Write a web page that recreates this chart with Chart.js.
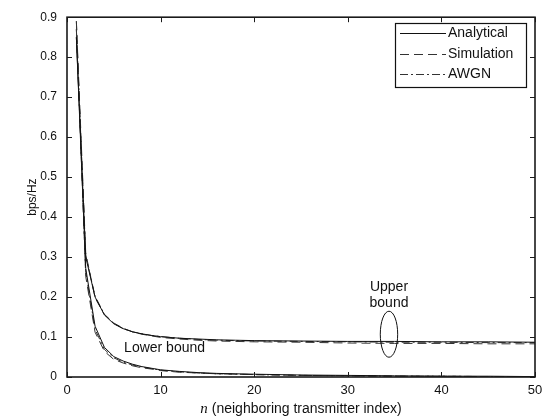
<!DOCTYPE html>
<html>
<head>
<meta charset="utf-8">
<script src="https://cdn.jsdelivr.net/npm/chart.js@4.4.1/dist/chart.umd.min.js"></script>
<style>
  html, body { margin: 0; padding: 0; background: #fff; }
  #chart { display: block; }
</style>
</head>
<body>
<canvas id="chart" width="550" height="417"></canvas>
<script>
// Neighboring transmitter index n
const nValues = [1, 2, 3, 4, 5, 6, 7, 8, 9, 10, 12, 14, 16, 18, 20, 25, 30, 35, 40, 45, 50];

// Upper bound curves (bps/Hz)
const upperAnalytical = [0.850, 0.300, 0.200, 0.155, 0.133, 0.121, 0.113, 0.108, 0.104, 0.101, 0.097, 0.095, 0.093, 0.092, 0.091, 0.090, 0.089, 0.089, 0.088, 0.088, 0.087];
const upperSimulation = [0.890, 0.310, 0.198, 0.156, 0.135, 0.122, 0.113, 0.107, 0.103, 0.099, 0.095, 0.092, 0.090, 0.089, 0.088, 0.087, 0.085, 0.084, 0.084, 0.083, 0.083];
const upperAwgn = [0.870, 0.305, 0.202, 0.157, 0.134, 0.121, 0.113, 0.108, 0.104, 0.101, 0.097, 0.094, 0.092, 0.091, 0.090, 0.089, 0.088, 0.087, 0.087, 0.086, 0.086];

// Lower bound curves (bps/Hz)
const lowerAnalytical = [0.850, 0.272, 0.127, 0.074, 0.051, 0.040, 0.032, 0.026, 0.022, 0.018, 0.014, 0.011, 0.009, 0.008, 0.007, 0.005, 0.004, 0.003, 0.002, 0.002, 0.001];
const lowerSimulation = [0.890, 0.252, 0.112, 0.064, 0.044, 0.035, 0.028, 0.023, 0.020, 0.016, 0.012, 0.010, 0.008, 0.007, 0.006, 0.004, 0.003, 0.002, 0.002, 0.001, 0.001];
const lowerAwgn = [0.870, 0.262, 0.119, 0.069, 0.048, 0.037, 0.030, 0.025, 0.021, 0.017, 0.013, 0.010, 0.008, 0.007, 0.006, 0.004, 0.003, 0.002, 0.002, 0.001, 0.001];

// Axis ticks
const xTicks = [0, 10, 20, 30, 40, 50];
const yTicks = [0, 0.1, 0.2, 0.3, 0.4, 0.5, 0.6, 0.7, 0.8, 0.9];

const legendNames = ['Analytical', 'Simulation', 'AWGN'];

const FONT = '"Liberation Sans", Arial, Helvetica, sans-serif';
const lineStyles = [
    { color: '#111', dash: [] },
    { color: '#333', dash: [9, 5] },
    { color: '#333', dash: [8, 3, 2, 3] }
];

function toPoints(values) {
    return values.map((v, i) => ({ x: nValues[i], y: v }));
}

function makeDataset(label, values, style) {
    return {
        label: label,
        data: toPoints(values),
        borderColor: style.color,
        borderDash: style.dash,
        borderWidth: 1,
        pointRadius: 0,
        showLine: true,
        fill: false,
        tension: 0
    };
}

const datasets = [
    makeDataset('Analytical', upperAnalytical, lineStyles[0]),
    makeDataset('Simulation', upperSimulation, lineStyles[1]),
    makeDataset('AWGN', upperAwgn, lineStyles[2]),
    makeDataset('Analytical (lower)', lowerAnalytical, lineStyles[0]),
    makeDataset('Simulation (lower)', lowerSimulation, lineStyles[1]),
    makeDataset('AWGN (lower)', lowerAwgn, lineStyles[2])
];

// Box, inward ticks, legend, annotations and x title
const framePlugin = {
    id: 'frame',
    afterDraw(chart) {
        const ctx = chart.ctx;
        const { left, right, top, bottom } = chart.chartArea;
        const xs = chart.scales.x;
        const ys = chart.scales.y;
        const tickLen = 5;

        ctx.save();
        ctx.strokeStyle = '#1a1a1a';
        ctx.lineWidth = 1;
        ctx.beginPath();
        xTicks.forEach(v => {
            const px = Math.round(xs.getPixelForValue(v)) + 0.5;
            ctx.moveTo(px, bottom); ctx.lineTo(px, bottom - tickLen);
            ctx.moveTo(px, top); ctx.lineTo(px, top + tickLen);
        });
        yTicks.forEach(v => {
            const py = Math.round(ys.getPixelForValue(v)) + 0.5;
            ctx.moveTo(left, py); ctx.lineTo(left + tickLen, py);
            ctx.moveTo(right, py); ctx.lineTo(right - tickLen, py);
        });
        ctx.stroke();

        ctx.lineWidth = 1.6;
        ctx.strokeRect(left, top, right - left, bottom - top);

        // Legend
        const lx = 395, ly = 23, lw = 131, lh = 64;
        ctx.fillStyle = '#fff';
        ctx.fillRect(lx, ly, lw, lh);
        ctx.lineWidth = 1.2;
        ctx.strokeStyle = '#111';
        ctx.strokeRect(lx + 0.5, ly + 0.5, lw, lh);
        ctx.font = '14px ' + FONT;
        ctx.textBaseline = 'middle';
        ctx.textAlign = 'left';
        const rows = [33, 54, 74];
        legendNames.forEach((name, i) => {
            const ds = chart.data.datasets[i];
            ctx.beginPath();
            ctx.setLineDash(ds.borderDash);
            ctx.strokeStyle = ds.borderColor;
            ctx.lineWidth = 1;
            ctx.moveTo(400, rows[i] + 0.5);
            ctx.lineTo(446, rows[i] + 0.5);
            ctx.stroke();
            ctx.setLineDash([]);
            ctx.fillStyle = '#111';
            ctx.fillText(name, 448, rows[i]);
        });

        // Annotations
        ctx.fillStyle = '#111';
        ctx.font = '14px ' + FONT;
        ctx.textAlign = 'center';
        const ux = xs.getPixelForValue(34.4);
        ctx.fillText('Upper', ux, ys.getPixelForValue(0.225));
        ctx.fillText('bound', ux, ys.getPixelForValue(0.185));
        ctx.textAlign = 'left';
        ctx.fillText('Lower bound', xs.getPixelForValue(6.1), ys.getPixelForValue(0.072));

        ctx.beginPath();
        ctx.strokeStyle = '#111';
        ctx.lineWidth = 1;
        ctx.ellipse(ux, ys.getPixelForValue(0.107), 8.7, 23, 0, 0, Math.PI * 2);
        ctx.stroke();

        // x axis title with italic n
        const rest = ' (neighboring transmitter index)';
        ctx.font = 'italic 15px "Liberation Serif", "Times New Roman", serif';
        const wN = ctx.measureText('n').width;
        ctx.font = '14px ' + FONT;
        const wRest = ctx.measureText(rest).width;
        const cx = (left + right) / 2;
        const startX = cx - (wN + wRest) / 2;
        const ty = 409;
        ctx.textAlign = 'left';
        ctx.font = 'italic 15px "Liberation Serif", "Times New Roman", serif';
        ctx.fillText('n', startX, ty);
        ctx.font = '14px ' + FONT;
        ctx.fillText(rest, startX + wN, ty);
        ctx.restore();
    }
};

new Chart(document.getElementById('chart'), {
    type: 'scatter',
    data: { datasets: datasets },
    options: {
        responsive: false,
        devicePixelRatio: 1,
        animation: false,
        layout: { padding: { top: 13, right: 15, left: 0, bottom: 0 } },
        plugins: {
            legend: { display: false },
            tooltip: { enabled: false }
        },
        scales: {
            x: {
                type: 'linear',
                min: 0,
                max: 50,
                afterFit: scale => { scale.height = 40; },
                afterBuildTicks: scale => { scale.ticks = xTicks.map(v => ({ value: v })); },
                grid: { display: false, drawTicks: false },
                border: { display: false },
                ticks: {
                    padding: 6,
                    color: '#111',
                    font: { family: FONT, size: 13 },
                    maxRotation: 0
                }
            },
            y: {
                type: 'linear',
                min: 0,
                max: 0.9,
                afterFit: scale => { scale.width = 67; },
                afterBuildTicks: scale => { scale.ticks = yTicks.map(v => ({ value: v })); },
                grid: { display: false, drawTicks: false },
                border: { display: false },
                ticks: {
                    padding: 10,
                    color: '#111',
                    font: { family: FONT, size: 12 },
                    callback: v => String(Math.round(v * 10) / 10)
                },
                title: {
                    display: true,
                    text: 'bps/Hz',
                    color: '#111',
                    font: { family: FONT, size: 12 },
                    padding: { top: 25, bottom: 0 }
                }
            }
        }
    },
    plugins: [framePlugin]
});
</script>
</body>
</html>
